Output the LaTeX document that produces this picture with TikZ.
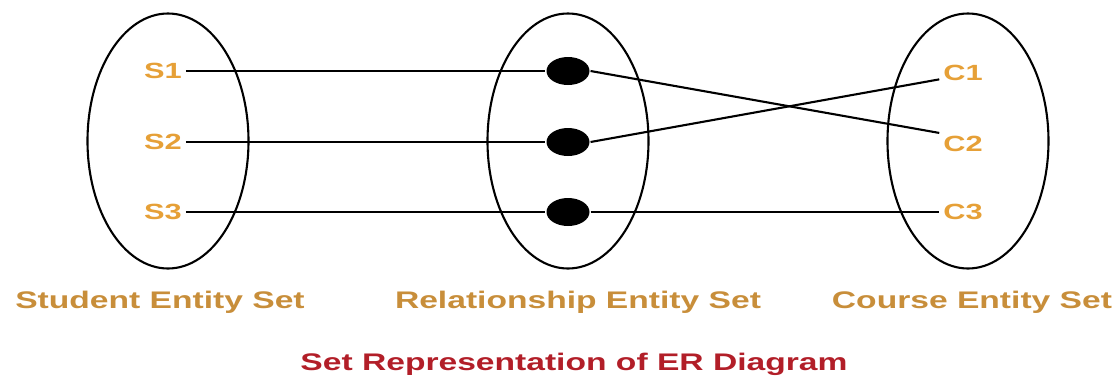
\documentclass[tikz,border=0pt]{standalone}
\usepackage{fontspec}
\newfontfamily\erfont[FakeStretch=1.4]{Liberation Sans}
\usetikzlibrary{shapes.geometric}
\definecolor{itemorange}{RGB}{230,160,55}
\definecolor{setbrown}{RGB}{200,142,58}
\definecolor{titlered}{RGB}{178,30,40}
\begin{document}
\begin{tikzpicture}[x=1pt, y=-1pt, line width=2.1pt,
	setoval/.style={draw, ellipse, minimum width=161pt, minimum height=255pt},
	member/.style={font=\erfont\bfseries\fontsize{22}{22}\selectfont, text=itemorange, inner sep=3pt},
	dot/.style={fill, ellipse, minimum width=43pt, minimum height=28pt, inner sep=0pt},
	setname/.style={font=\erfont\bfseries\fontsize{24}{24}\selectfont, text=setbrown}]
	\useasboundingbox (0,0) rectangle (1117,381);
	
	\node[setoval] (stu) at (168,141) {};
	\node[setoval] (rel) at (568,141) {};
	\node[setoval] (crs) at (968,141) {};
	
	\node[member] (s1) at (163,71) {S1};
	\node[member] (s2) at (163,142) {S2};
	\node[member] (s3) at (163,212) {S3};
	
	\node[dot] (r1) at (568,71) {};
	\node[dot] (r2) at (568,142) {};
	\node[dot] (r3) at (568,212) {};
	
	\node[member] (c1) at (963,73) {C1};
	\node[member] (c2) at (963,144) {C2};
	\node[member] (c3) at (963,212) {C3};
	
	\draw (s1.east) -- (r1.west);
	\draw (s2.east) -- (r2.west);
	\draw (s3.east) -- (r3.west);
	\draw (r1.east) -- (c2.155);
	\draw (r2.east) -- (c1.195);
	\draw (r3.east) -- (c3.west);
	
	\node[setname] (stuname) at (160,302) {Student Entity Set};
	\node[setname] (relname) at (578,302) {Relationship Entity Set};
	\node[setname] (crsname) at (972,302) {Course Entity Set};
	\node[setname, text=titlered] (title) at (574,364) {Set Representation of ER Diagram};
\end{tikzpicture}
\end{document}
